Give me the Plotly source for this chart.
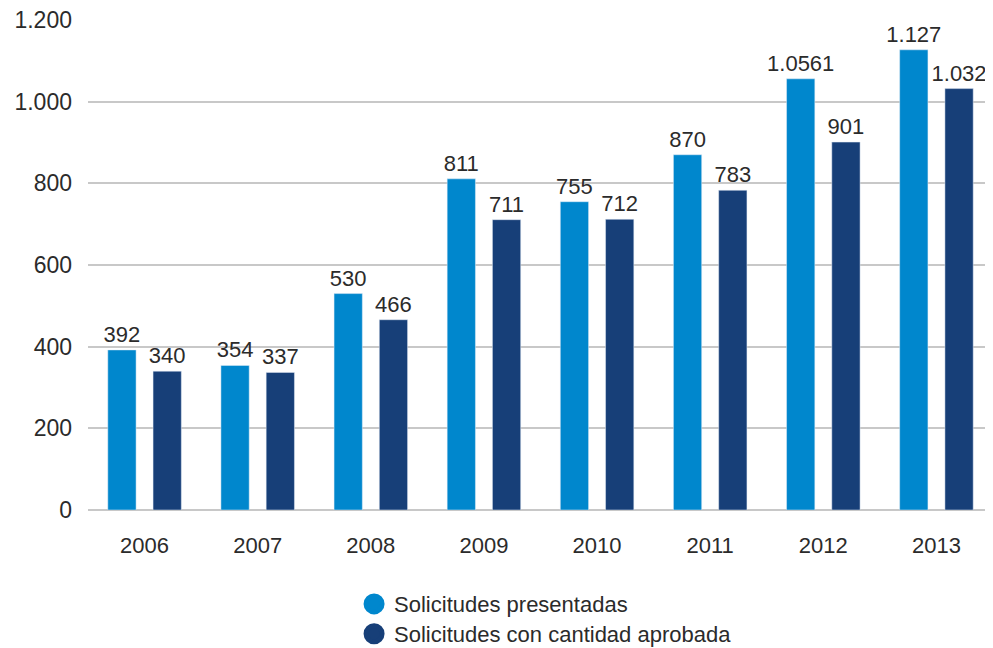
import plotly.graph_objects as go

# data
years = ["2006", "2007", "2008", "2009", "2010", "2011", "2012", "2013"]
presentadas = [392, 354, 530, 811, 755, 870, 1056, 1127]
aprobadas = [340, 337, 466, 711, 712, 783, 901, 1032]
presentadas_txt = ["392", "354", "530", "811", "755", "870", "1.0561", "1.127"]
aprobadas_txt = ["340", "337", "466", "711", "712", "783", "901", "1.032"]
y_ticks = [0, 200, 400, 600, 800, 1000, 1200]
y_ticktext = ["0", "200", "400", "600", "800", "1.000", "1.200"]

light = "#0087CD"
dark = "#173F78"
txt = "#2b2b2b"
font = "Liberation Sans, Arial, sans-serif"

fig = go.Figure()

fig.add_trace(go.Bar(
    x=years, y=presentadas, text=presentadas_txt, textposition="outside",
    marker_color=light, width=0.25, offset=-0.325, showlegend=False,
    textfont=dict(size=22, color=txt), cliponaxis=False,
    constraintext="none", textangle=0,
))
fig.add_trace(go.Bar(
    x=years, y=aprobadas, text=aprobadas_txt, textposition="outside",
    marker_color=dark, width=0.25, offset=0.075, showlegend=False,
    textfont=dict(size=22, color=txt), cliponaxis=False,
    constraintext="none", textangle=0,
))

# legend entries drawn as circles, one small legend per row
for leg, name, col in [("legend", "Solicitudes presentadas", light),
                       ("legend2", "Solicitudes con cantidad aprobada", dark)]:
    fig.add_trace(go.Scatter(
        x=[None], y=[None], mode="markers", name=name, legend=leg,
        marker=dict(symbol="circle", size=16, color=col,
                    line=dict(width=5, color=col)),
    ))

leg_style = dict(x=0.294, xanchor="left", yanchor="middle",
                 font=dict(size=22, color=txt), itemsizing="trace",
                 bgcolor="rgba(0,0,0,0)")

# page body has an 8px margin, so the figure sits at (8, 8); it is made a bit
# taller than the window so the bottom legend row is not clipped
fig.update_layout(
    width=985, height=660,
    margin=dict(l=80, r=0, t=12, b=158, autoexpand=False),
    paper_bgcolor="white", plot_bgcolor="white",
    font=dict(family=font, size=22, color=txt),
    barmode="group",
    legend=dict(y=-0.192, **leg_style),
    legend2=dict(y=-0.253, **leg_style),
    showlegend=True,
)
fig.update_xaxes(
    type="category", showgrid=False, showline=False, ticks="",
    tickfont=dict(size=22, color=txt), ticklabelstandoff=20,
    automargin=False,
)
fig.update_yaxes(
    range=[0, 1200], tickvals=y_ticks, ticktext=y_ticktext,
    showgrid=True, gridcolor="#c8c8c8", gridwidth=1.5,
    zeroline=True, zerolinecolor="#c8c8c8", zerolinewidth=1.5,
    ticks="", tickfont=dict(size=23, color=txt), ticklabelstandoff=15,
    ticklabeloverflow="allow", automargin=False,
)

fig.write_html("out.html")
